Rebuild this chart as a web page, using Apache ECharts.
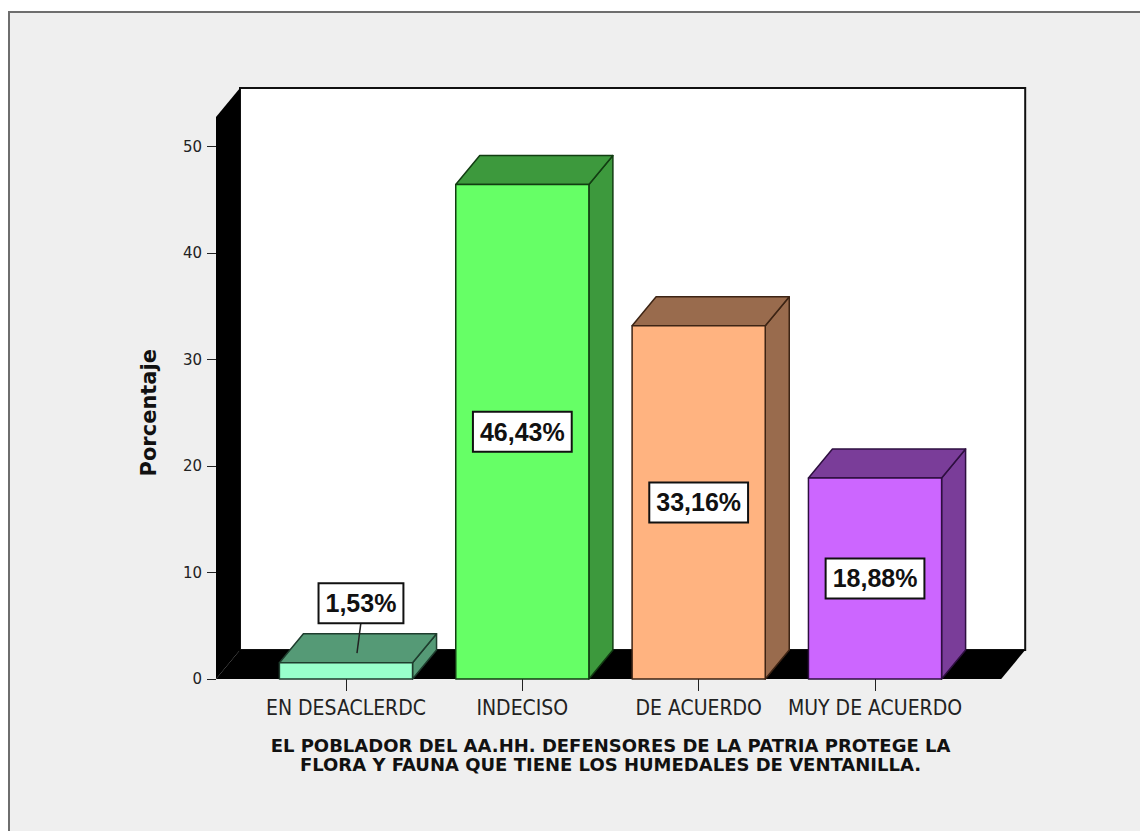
<!DOCTYPE html>
<html><head><meta charset="utf-8">
<script src="https://cdn.jsdelivr.net/npm/echarts@6/dist/echarts.min.js"></script>
<style>html,body{margin:0;padding:0;background:#fff;}#c{width:1140px;height:831px;}</style>
</head><body><div id="c"></div>
<script>
const categories = ['EN DESACLERDC', 'INDECISO', 'DE ACUERDO', 'MUY DE ACUERDO'];
const percentages = [1.53, 46.43, 33.16, 18.88];
const valueLabels = ['1,53%', '46,43%', '33,16%', '18,88%'];
const frontColors = ['#99ffcc', '#66ff66', '#ffb380', '#cc66ff'];
const sideColors = ['#559a76', '#3d993d', '#996b4d', '#7a3d99'];
const edgeColors = ['#1f3d2e', '#123d12', '#3d2414', '#2e0f40'];
const yTicks = [0, 10, 20, 30, 40, 50];
const yAxisTitle = 'Porcentaje';
const xAxisTitle = 'EL POBLADOR DEL AA.HH. DEFENSORES DE LA PATRIA PROTEGE LA\nFLORA Y FAUNA QUE TIENE LOS HUMEDALES DE VENTANILLA.';

const DX = 24, DY = 29;           // oblique depth
const AXIS_OFFSET = 41.8;         // front wall left edge vs grid left
const RIGHT_EXTRA = 38;           // floor beyond grid right
const WALL_ABOVE_MAX = 29.5;      // front wall top above the max tick
const BAR_RATIO = 0.755;

const chart = echarts.init(document.getElementById('c'), null, {renderer: 'svg'});

function renderWalls(params, api) {
  const cs = params.coordSys;
  const left = cs.x - AXIS_OFFSET;
  const right = cs.x + cs.width + RIGHT_EXTRA;
  const bottom = api.coord([0, yTicks[0]])[1];
  const frontTop = api.coord([0, yTicks[yTicks.length - 1]])[1] - WALL_ABOVE_MAX;
  return {
    type: 'group',
    children: [
      {type: 'rect', shape: {x: left + DX, y: frontTop - DY, width: right - left, height: bottom - frontTop},
        style: {fill: '#ffffff', stroke: '#111', lineWidth: 2}},
      {type: 'polygon', shape: {points: [[left, frontTop], [left + DX, frontTop - DY], [left + DX, bottom - DY], [left, bottom]]},
        style: {fill: '#000'}},
      {type: 'polygon', shape: {points: [[left, bottom], [left + DX, bottom - DY], [right + DX, bottom - DY], [right, bottom]]},
        style: {fill: '#000'}}
    ]
  };
}

function renderBar(params, api) {
  const i = api.value(0), v = api.value(1);
  const top = api.coord([i, v]);
  const base = api.coord([i, 0]);
  const w = api.size([1, 0])[0] * BAR_RATIO;
  const x0 = top[0] - w / 2, x1 = top[0] + w / 2;
  const yT = top[1], yB = base[1];
  const edge = {stroke: edgeColors[i], lineWidth: 1.5, lineJoin: 'round'};
  const children = [
    {type: 'polygon', shape: {points: [[x1, yT], [x1 + DX, yT - DY], [x1 + DX, yB - DY], [x1, yB]]},
      style: Object.assign({fill: sideColors[i]}, edge)},
    {type: 'polygon', shape: {points: [[x0, yT], [x0 + DX, yT - DY], [x1 + DX, yT - DY], [x1, yT]]},
      style: Object.assign({fill: sideColors[i]}, edge)},
    {type: 'rect', shape: {x: x0, y: yT, width: w, height: yB - yT},
      style: Object.assign({fill: frontColors[i]}, edge)}
  ];
  const labelStyle = {
    text: valueLabels[i], align: 'center', verticalAlign: 'middle',
    fontFamily: 'Liberation Sans, Arial, sans-serif', fontWeight: 'bold', fontSize: 25,
    fill: '#111', backgroundColor: '#fff', borderColor: '#111', borderWidth: 2,
    padding: [7, 6, 6, 6]
  };
  const h = yB - yT;
  if (h > 60) {
    children.push({type: 'text', z2: 10, style: Object.assign({x: top[0], y: (yT + yB) / 2}, labelStyle)});
  } else {
    const tcx = (x0 + x1) / 2 + DX / 2, tcy = yT - DY / 2;
    const lx = tcx + 3, ly = tcy - 45;
    children.push({type: 'line', z2: 9, shape: {x1: lx, y1: ly + 19, x2: tcx - 1, y2: tcy + 5},
      style: {stroke: '#222', lineWidth: 1.5}});
    children.push({type: 'text', z2: 10, style: Object.assign({x: lx, y: ly}, labelStyle)});
  }
  return {type: 'group', children: children};
}

const option = {
  backgroundColor: '#ffffff',
  animation: false,
  graphic: [
    {type: 'rect', z: -10, shape: {x: 9, y: 12, width: 1140, height: 830},
      style: {fill: '#efefef', stroke: '#6e6e6e', lineWidth: 2}}
  ],
  grid: {left: 257.8, right: 176.8, top: 146.5, bottom: 152},
  xAxis: {
    type: 'category', data: categories,
    axisLine: {show: false},
    axisTick: {show: true, alignWithLabel: true, length: 12, lineStyle: {color: '#222', width: 1}},
    axisLabel: {interval: 0, margin: 18, color: '#222', fontSize: 21,
      fontFamily: "'Liberation Sans Narrow', 'DejaVu Sans Condensed', 'Liberation Sans', sans-serif"},
    name: xAxisTitle, nameLocation: 'middle', nameGap: 57,
    nameTextStyle: {color: '#111', fontWeight: 'bold', fontSize: 18, lineHeight: 19,
      fontFamily: 'DejaVu Sans, sans-serif'}
  },
  yAxis: {
    type: 'value', min: yTicks[0], max: yTicks[yTicks.length - 1], interval: yTicks[1] - yTicks[0],
    offset: AXIS_OFFSET,
    axisLine: {show: false},
    axisTick: {show: true, length: 9, lineStyle: {color: '#222', width: 1}},
    axisLabel: {margin: 14, color: '#222', fontSize: 15, fontFamily: 'DejaVu Sans, sans-serif'},
    splitLine: {show: false},
    name: yAxisTitle, nameLocation: 'middle', nameGap: 57, nameRotate: 90,
    nameTextStyle: {color: '#111', fontWeight: 'bold', fontSize: 21, fontFamily: 'DejaVu Sans, sans-serif'}
  },
  series: [
    {type: 'custom', z: 1, silent: true, renderItem: renderWalls, data: [[0, 0]], clip: false},
    {type: 'custom', z: 2, renderItem: renderBar, clip: false,
      data: percentages.map((p, i) => [i, p])}
  ]
};
chart.setOption(option);
</script></body></html>
